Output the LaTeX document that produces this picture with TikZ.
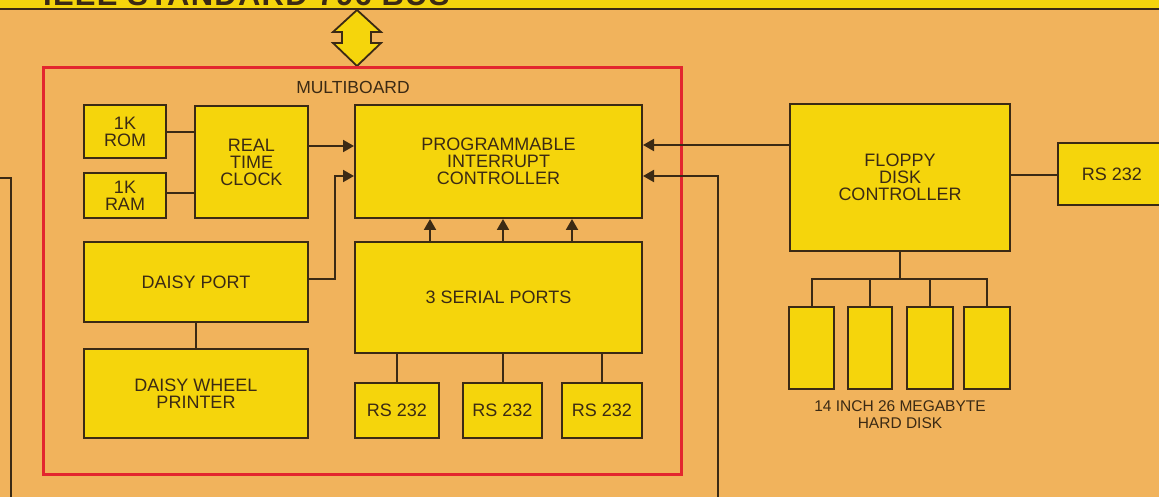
\documentclass[tikz,border=0pt]{standalone}
\usepackage{fontspec}
\setmainfont{Liberation Sans}
\usetikzlibrary{arrows.meta}
\definecolor{bg}{HTML}{F1B35C}
\definecolor{boxy}{HTML}{F5D50C}
\definecolor{ink}{HTML}{3B2A14}
\definecolor{redl}{HTML}{E3262E}
\begin{document}
\begin{tikzpicture}[x=1pt,y=-1pt,
  blk/.style={draw=ink,line width=2pt,fill=boxy,inner sep=0pt,align=center,text=ink,font=\fontsize{18}{17}\selectfont},
  conn/.style={draw=ink,line width=2pt},
  arr/.style={conn,-{Triangle[length=11pt,width=12pt]}},
  lbl/.style={inner sep=0pt,align=center,text=ink,font=\fontsize{15.5}{17}\selectfont}
]
\useasboundingbox (0,0) rectangle (1159,497);
\clip (0,0) rectangle (1159,497);
\fill[bg] (0,0) rectangle (1159,497);
% banner
\fill[boxy] (0,0) rectangle (1159,9.5);
\draw[ink,line width=2pt] (0,9.5) -- (1159,9.5);
\node[anchor=base west,inner sep=0pt,text=ink,font=\fontsize{31}{31}\selectfont\bfseries\addfontfeature{LetterSpace=4}] (title) at (43,5.5) {IEEE STANDARD 796 BUS};
% double arrow
\draw[ink,line width=1.8pt,fill=boxy,line join=miter]
  (357,10) -- (333,32) -- (342,32) -- (342,43) -- (333,43) -- (357,66)
  -- (381,43) -- (371,43) -- (371,32) -- (381,32) -- cycle;
% multiboard frame
\draw[redl,line width=3pt] (43,68) rectangle (681,474);
\node[lbl,anchor=base,font=\fontsize{17.5}{17}\selectfont] (mb) at (353,94) {MULTIBOARD};
% boxes
\node[blk,minimum width=82pt,minimum height=53pt] (rom) at (125,131.5) {1K\\ROM};
\node[blk,minimum width=82pt,minimum height=45pt] (ram) at (125,195.5) {1K\\RAM};
\node[blk,minimum width=113pt,minimum height=112pt] (rtc) at (251.5,162) {REAL\\TIME\\CLOCK};
\node[blk,minimum width=287pt,minimum height=113pt] (pic) at (498.5,161.5) {PROGRAMMABLE\\INTERRUPT\\CONTROLLER};
\node[blk,minimum width=224pt,minimum height=80pt] (daisy) at (196,282) {DAISY PORT};
\node[blk,minimum width=224pt,minimum height=89pt] (printer) at (196,393.5) {DAISY WHEEL\\PRINTER};
\node[blk,minimum width=287pt,minimum height=111pt] (serial) at (498.5,297.5) {3 SERIAL PORTS};
\node[blk,minimum width=84pt,minimum height=55pt] (rsa) at (397,410.5) {RS 232};
\node[blk,minimum width=79pt,minimum height=55pt] (rsb) at (502.5,410.5) {RS 232};
\node[blk,minimum width=80pt,minimum height=55pt] (rsc) at (602,410.5) {RS 232};
\node[blk,minimum width=220pt,minimum height=147pt] (floppy) at (900,177.5) {FLOPPY\\DISK\\CONTROLLER};
\node[blk,minimum width=108pt,minimum height=62pt] (rsr) at (1112,174) {RS 232};
\node[blk,minimum width=45pt,minimum height=82pt] (d1) at (811.5,348) {};
\node[blk,minimum width=44pt,minimum height=82pt] (d2) at (870,348) {};
\node[blk,minimum width=46pt,minimum height=82pt] (d3) at (930,348) {};
\node[blk,minimum width=46pt,minimum height=82pt] (d4) at (987,348) {};
\node[lbl,anchor=north] (hd) at (900,400) {14 INCH 26 MEGABYTE\\HARD DISK};
% coordinates
\coordinate (j1) at (335,176);
\coordinate (bus) at (900,279);
\coordinate (bR) at (718,497);
\coordinate (lT) at (0,178);
\coordinate (lB) at (11,497);
% connectors
\draw[conn] ([yshift=-0.5pt]rom.east) -- ([yshift=-0.5pt]rom.east -| rtc.west);
\draw[conn] ([yshift=2.5pt]ram.east) -- ([yshift=2.5pt]ram.east -| rtc.west);
\draw[arr] ([yshift=16pt]rtc.east) -- ([yshift=16pt]rtc.east -| pic.west);
\draw[arr] ([yshift=3pt]daisy.east) -| (j1) -- (j1 -| pic.west);
\draw[conn] (daisy.south) -- (printer.north);
\draw[arr] ([xshift=-68.5pt]serial.north) -- ([xshift=-68.5pt]pic.south);
\draw[arr] ([xshift=4.5pt]serial.north) -- ([xshift=4.5pt]pic.south);
\draw[arr] ([xshift=73.5pt]serial.north) -- ([xshift=73.5pt]pic.south);
\draw[conn] (rsa.north |- serial.south) -- (rsa.north);
\draw[conn] (rsb.north |- serial.south) -- (rsb.north);
\draw[conn] (rsc.north |- serial.south) -- (rsc.north);
\draw[arr] ([yshift=32.5pt]floppy.west) -- ([yshift=32.5pt]floppy.west -| pic.east);
\draw[arr] (bR) |- ([yshift=-14.5pt]pic.east);
\draw[conn] ([yshift=2.5pt]floppy.east) -- ([yshift=2.5pt]floppy.east -| rsr.west);
\draw[conn] (floppy.south) -- (bus);
\draw[conn] (d1.north) |- (bus) -| (d4.north);
\draw[conn] (d2.north) -- (d2.north |- bus);
\draw[conn] (d3.north) -- (d3.north |- bus);
\draw[conn] (lT) -| (lB);
\end{tikzpicture}
\end{document}
